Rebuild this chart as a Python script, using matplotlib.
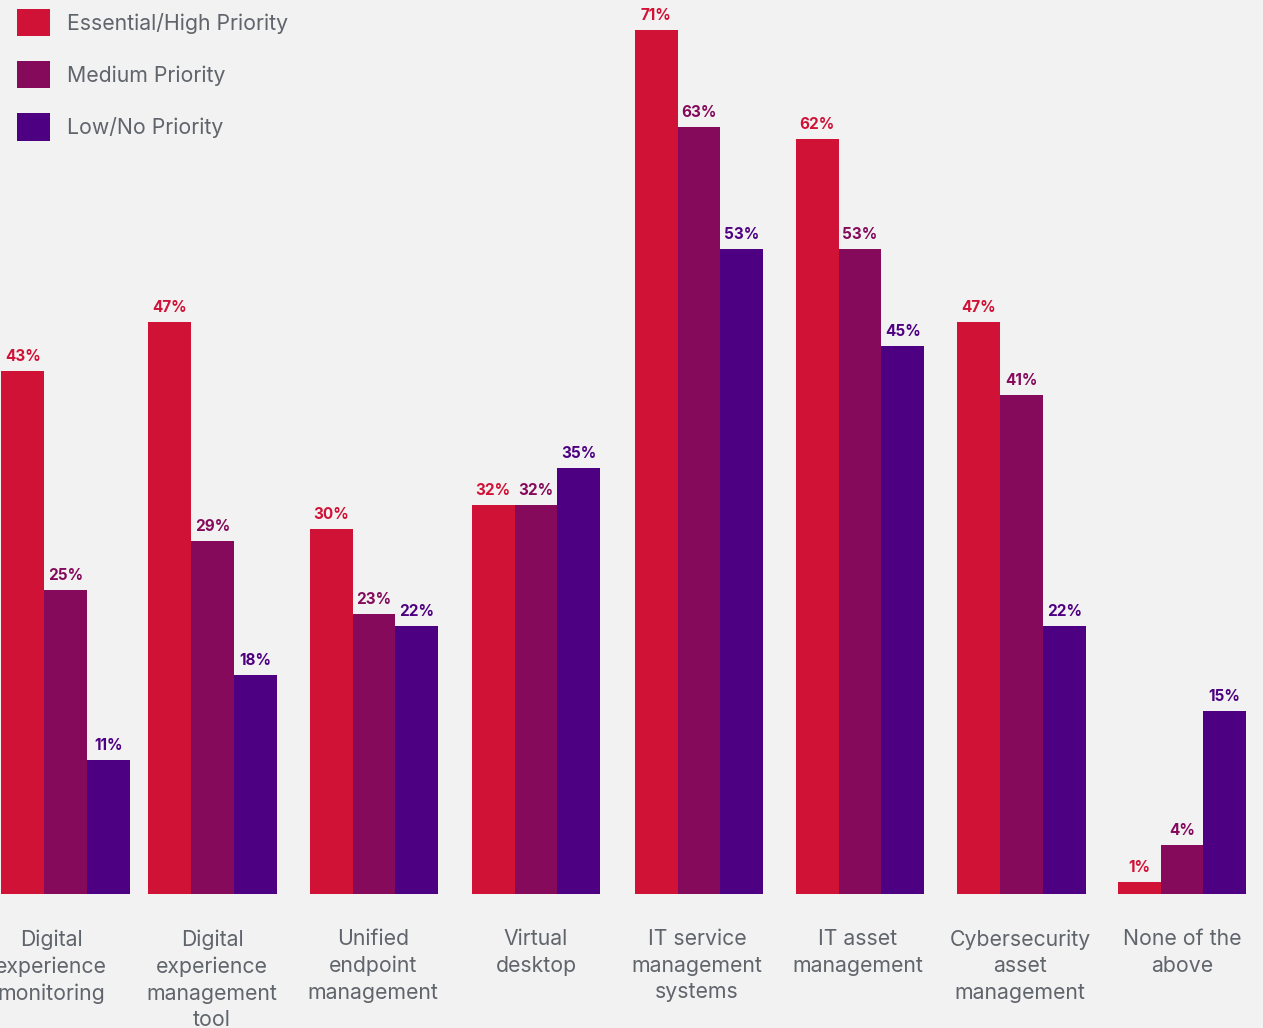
import matplotlib
matplotlib.use("Agg")
import matplotlib.pyplot as plt
from matplotlib.patches import Patch

categories = ["Digital\nexperience\nmonitoring",
              "Digital\nexperience\nmanagement\ntool",
              "Unified\nendpoint\nmanagement",
              "Virtual\ndesktop",
              "IT service\nmanagement\nsystems",
              "IT asset\nmanagement",
              "Cybersecurity\nasset\nmanagement",
              "None of the\nabove"]
series_names = ["Essential/High Priority", "Medium Priority", "Low/No Priority"]
essential = [43, 47, 30, 32, 71, 62, 47, 1]
medium = [25, 29, 23, 32, 63, 53, 41, 4]
low = [11, 18, 22, 35, 53, 45, 22, 15]

colors = ["#D01236", "#850A5C", "#4E0082"]
bg = "#F2F2F2"
text_gray = "#60646B"

# layout in pixel units (x) and percent units (y)
W, H = 1263, 1028
base_px = 894
px_per_pct = 12.17
group_x = [65.5, 212.5, 374, 536, 699, 860, 1021.5, 1182]
label_x = [51, 212, 373, 536, 697, 858, 1020, 1182]
bar_w = 42.7

plt.rcParams['font.family'] = ['Inter', 'DejaVu Sans']

fig = plt.figure(figsize=(W / 100, H / 100), dpi=100, facecolor=bg)
ax = fig.add_axes([0, 0, 1, 1])
ax.set_facecolor(bg)
ax.set_xlim(0, W)
ax.set_ylim(-(H - base_px) / px_per_pct, base_px / px_per_pct)
ax.axis('off')

for i, vals in enumerate([essential, medium, low]):
    xs = [g + (i - 1) * bar_w for g in group_x]
    ax.bar(xs, vals, width=bar_w, color=colors[i], linewidth=0)
    for x, v in zip(xs, vals):
        ax.annotate(f"{v}%", (x, v), xytext=(0, 7), textcoords='offset pixels',
                    ha='center', va='bottom', fontsize=11, fontweight='bold',
                    color=colors[i])

for x, lab in zip(label_x, categories):
    ax.text(x, -(929 - base_px) / px_per_pct, lab, ha='center', va='top',
            fontsize=15.3, color=text_gray, linespacing=1.42)

handles = [Patch(facecolor=c, edgecolor='none') for c in colors]
leg = ax.legend(handles, series_names, loc='upper left',
                bbox_to_anchor=(17 / W, 1 - 9 / H), bbox_transform=fig.transFigure,
                frameon=False, fontsize=15.3, handlelength=1.56, handleheight=1.6,
                handletextpad=0.8, labelspacing=1.17, borderpad=0, borderaxespad=0)
for t in leg.get_texts():
    t.set_color(text_gray)

fig.savefig("out.png", dpi=100, facecolor=bg)
